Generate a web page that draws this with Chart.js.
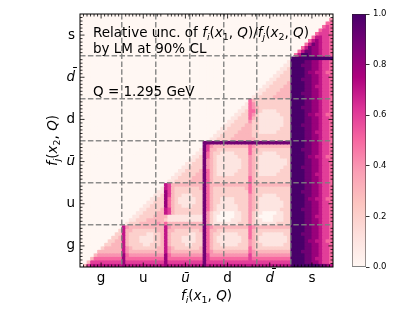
<!DOCTYPE html>
<html lang="en">
<head>
<meta charset="UTF-8">
<title>Relative uncertainty of PDF ratios</title>
<script src="https://cdn.jsdelivr.net/npm/chart.js@4.4.1/dist/chart.umd.min.js"></script>
<style>
  body { margin: 0; background: #fff; }
  #wrap { position: relative; width: 420px; height: 315px; }
  #main { position: absolute; left: 0; top: 0; }
  #cbar { position: absolute; left: 340px; top: 0; }
</style>
<script>
// flavour blocks, 12 x-bins each; rows go from top (largest x2) to bottom
// one char per cell: '0'..'9' = 0.0..0.9, 'a' = 1.0
var flavours = ['g', 'u', 'u\u0304', 'd', 'd\u0304', 's'];
var cbTicks = [0, 0.2, 0.4, 0.6, 0.8, 1.0];

var sRows = [
  '000000000000 000000000000 000000000000 000000000000 000000000000 000000000000',
  '000000000000 000000000000 000000000000 000000000000 000000000000 000000000004',
  '000000000000 000000000000 000000000000 000000000000 000000000000 000000000055',
  '000000000000 000000000000 000000000000 000000000000 000000000000 000000000565',
  '000000000000 000000000000 000000000000 000000000000 000000000000 000000005665',
  '000000000000 000000000000 000000000000 000000000000 000000000000 000000056665',
  '000000000000 000000000000 000000000000 000000000000 000000000000 000000577665',
  '000000000000 000000000000 000000000000 000000000000 000000000000 000005787665',
  '000000000000 000000000000 000000000000 000000000000 000000000000 000057987665',
  '000000000000 000000000000 000000000000 000000000000 000000000000 000579887665',
  '000000000000 000000000000 000000000000 000000000000 000000000000 005799887665',
  '000000000000 000000000000 000000000000 000000000000 000000000000 057aa9887665'
];
var dbarRows = [
  '000000000000 000000000000 000000000000 000000000000 000000000000 aaaaaaaaaaaa',
  '000000000000 000000000000 000000000000 000000000000 000000000001 aaaa99887665',
  '000000000000 000000000000 000000000000 000000000000 000000000011 aaa999887665',
  '000000000000 000000000000 000000000000 000000000000 000000000112 aaaa99887665',
  '000000000000 000000000000 000000000000 000000000000 000000001122 aaaa98877655',
  '000000000000 000000000000 000000000000 000000000000 000000011222 aaaa99887665',
  '000000000000 000000000000 000000000000 000000000000 000000112222 aaa999887665',
  '000000000000 000000000000 000000000000 000000000000 000001122223 aaaa99887665',
  '000000000000 000000000000 000000000000 000000000000 000011222233 aaaa99877665',
  '000000000000 000000000000 000000000000 000000000000 000112222333 aaaa99887665',
  '000000000000 000000000000 000000000000 000000000000 001122223333 aaa999887665',
  '000000000000 000000000000 000000000000 000000000000 011222233333 aaaa99887665'
];
var dRows = [
  '000000000000 000000000000 000000000000 000000000000 532222222222 aaaa99887665',
  '000000000000 000000000000 000000000000 000000000001 542222222222 aaaa99887665',
  '000000000000 000000000000 000000000000 000000000011 543222222222 aaa999887665',
  '000000000000 000000000000 000000000000 000000000112 553211112222 aaaa99887665',
  '000000000000 000000000000 000000000000 000000001122 542111111222 aaaa98877655',
  '000000000000 000000000000 000000000000 000000011222 532111111122 aaaa99887665',
  '000000000000 000000000000 000000000000 000000112222 422111111122 aaaa99887665',
  '000000000000 000000000000 000000000000 000001122223 322111111122 aaa999887665',
  '000000000000 000000000000 000000000000 000011222233 322111111222 aaaa99887665',
  '000000000000 000000000000 000000000000 000112222333 322111112222 aaaa99877665',
  '000000000000 000000000000 000000000000 001122223333 322222222222 aaaa99887665',
  '000000000000 000000000000 000000000000 011222233333 332222222222 aaaa99887665'
];
var ubarRows = [
  '000000000000 000000000000 000000000009 999999999999 999999999999 aaaa99887665',
  '000000000000 000000000000 000000000009 643333333333 543333333333 aaaa99887665',
  '000000000000 000000000000 000000000019 633222222222 533222222222 aaa999887665',
  '000000000000 000000000000 000000000119 532211112222 532211112222 aaaa99887665',
  '000000000000 000000000000 000000001129 532111111222 432111111222 aaaa98877655',
  '000000000000 000000000000 000000011229 432111111122 432111111112 aaaa99887665',
  '000000000000 000000000000 000000112229 432111111122 432111111112 aaaa99887665',
  '000000000000 000000000000 000001122229 432111111122 432111111122 aaa999887665',
  '000000000000 000000000000 000011222239 532111111222 432111111222 aaaa99887665',
  '000000000000 000000000000 000112222339 532111112222 432111112222 aaaa99877665',
  '000000000000 000000000000 001122223339 532222222222 532222222222 aaaa99887665',
  '000000000000 000000000000 011222233339 532222222222 532222222222 aaaa99887665'
];
var uRows = [
  '000000000000 000000000000 763333333339 533333333333 533333333333 aaaa99887665',
  '000000000000 000000000001 763222222239 532222222223 532222222222 aaaa99887665',
  '000000000000 000000000011 863222222229 532222222222 532222222222 aaa999887665',
  '000000000000 000000000112 863221112229 532222222222 432211112222 aaaa99887665',
  '000000000000 000000001122 853211111229 532211112222 432111111222 aaaa98877655',
  '000000000000 000000011222 853211111229 532211112222 432111111122 aaaa99887665',
  '000000000000 000000112222 853221112229 532111111222 432111111122 aaaa99887665',
  '000000000000 000001122223 763222222229 532111111222 432111111222 aaa999887665',
  '000000000000 000011222233 763222222229 421100001122 421100001122 aaaa99887665',
  '000000000000 000112222333 311111111119 421000001122 421000011122 aaaa99877665',
  '000000000000 001122233333 211111111119 421000011122 421100011122 aaaa99887665',
  '000000000000 012223333343 533333333339 421111111222 421111112222 aaaa99887665'
];
var gRows = [
  '000000000000 743333333333 743333333339 543333333333 543333333333 aaaa99887665',
  '000000000002 733222222233 733222222239 533222222222 532222222222 aaaa99887665',
  '000000000022 732222211223 732222211229 532211111222 532211111122 aaa999887665',
  '000000000223 732221111223 732221111229 532111111122 532111111112 aaaa99887665',
  '000000002233 732221111223 732221111229 532111111122 432111111112 aaaa98877655',
  '000000022333 732222112223 732222112229 532211111222 432211111122 aaaa99887665',
  '000000233333 743222222233 743222222239 532222222222 532222222222 aaaa99887665',
  '000003333333 743333333333 743333333339 543333333333 543333333333 aaa999887665',
  '000034444444 854444444444 854444444449 644444444444 644444444444 aaaa99887665',
  '000355555555 855555555555 855555555559 655555555555 655555555555 aaaa99877665',
  '003666666666 866666666666 866666666669 666666666666 666666666666 aaaa99887665',
  '036777777777 877777777777 877777777779 777777777777 777777777777 aaaaaaaa9987'
];
</script>
</head>
<body>
<div id="wrap">
  <canvas id="main" width="340" height="315"></canvas>
  <canvas id="cbar" width="80" height="315"></canvas>
</div>
<script>
var FONT = "'DejaVu Sans'";
var RDPU = [[255,247,243],[253,224,221],[252,197,192],[250,159,181],[247,104,161],
            [221,52,151],[174,1,126],[122,1,119],[73,0,106]];

function rgb(c) { return 'rgb(' + c[0] + ',' + c[1] + ',' + c[2] + ')'; }

function rdpu(v) {
  v = Math.max(0, Math.min(1, v));
  var p = v * 8, k = Math.min(7, Math.floor(p)), t = p - k;
  var a = RDPU[k], b = RDPU[k + 1];
  return rgb([0, 1, 2].map(function (n) { return Math.round(a[n] + (b[n] - a[n]) * t); }));
}

var allRows = [].concat(sRows, dbarRows, dRows, ubarRows, uRows, gRows);
var nBins = allRows.length;
var centers = flavours.map(function (f, k) { return 12 * k + 6; });
var bounds = [12, 24, 36, 48, 60];

var datasets = allRows.map(function (str, r) {
  var cells = Array.from(str.replace(/ /g, ''));
  var j = nBins - 1 - r;
  var vals = cells.map(function (c) { return c === 'a' ? 1 : +c / 10; });
  return {
    data: vals.map(function (v, i) { return { x: i + 0.5, y: [j, j + 1] }; }),
    backgroundColor: vals.map(rdpu),
    borderWidth: 0,
    grouped: false,
    barPercentage: 1,
    categoryPercentage: 1,
    inflateAmount: 0.4
  };
});

// text with italic letters and subscripts, like matplotlib mathtext
function richWidth(ctx, parts, size) {
  var w = 0;
  parts.forEach(function (p) {
    var sub = p[1].indexOf('s') >= 0;
    ctx.font = (p[1].indexOf('i') >= 0 ? 'italic ' : '') + (sub ? size * 0.7 : size) + 'px ' + FONT;
    w += ctx.measureText(p[0]).width;
  });
  return w;
}
function drawRich(ctx, parts, x, y, size) {
  ctx.textBaseline = 'alphabetic';
  ctx.textAlign = 'left';
  parts.forEach(function (p) {
    var sub = p[1].indexOf('s') >= 0;
    ctx.font = (p[1].indexOf('i') >= 0 ? 'italic ' : '') + (sub ? size * 0.7 : size) + 'px ' + FONT;
    ctx.fillText(p[0], x, sub ? y + size * 0.22 : y);
    x += ctx.measureText(p[0]).width;
  });
}

var titleParts = [['Relative unc. of ', 'n'], ['f', 'i'], ['i', 'si'], ['(', 'n'], ['x', 'i'], ['1', 's'],
  [', ', 'n'], ['Q', 'i'], [')/', 'n'], ['f', 'i'], ['j', 'si'], ['(', 'n'], ['x', 'i'], ['2', 's'],
  [', ', 'n'], ['Q', 'i'], [')', 'n']];
var xLabelParts = [['f', 'i'], ['i', 'si'], ['(', 'n'], ['x', 'i'], ['1', 's'], [', ', 'n'], ['Q', 'i'], [')', 'n']];
var yLabelParts = [['f', 'i'], ['j', 'si'], ['(', 'n'], ['x', 'i'], ['2', 's'], [', ', 'n'], ['Q', 'i'], [')', 'n']];

var decor = {
  id: 'decor',
  afterDraw: function (chart) {
    var ctx = chart.ctx, a = chart.chartArea;
    var xs = chart.scales.x, ys = chart.scales.y;
    ctx.save();
    // inward tick marks
    ctx.strokeStyle = '#000';
    ctx.lineWidth = 0.8;
    ctx.beginPath();
    for (var k = 1; k < nBins; k++) {
      var len = (k % 12 === 6) ? 4.5 : (k % 12 === 0 ? 0 : 2.5);
      if (!len) continue;
      var px = xs.getPixelForValue(k), py = ys.getPixelForValue(k);
      ctx.moveTo(px, a.bottom); ctx.lineTo(px, a.bottom - len);
      ctx.moveTo(px, a.top); ctx.lineTo(px, a.top + len);
      ctx.moveTo(a.left, py); ctx.lineTo(a.left + len, py);
      ctx.moveTo(a.right, py); ctx.lineTo(a.right - len, py);
    }
    ctx.stroke();
    ctx.lineWidth = 1;
    ctx.strokeRect(a.left, a.top, a.right - a.left, a.bottom - a.top);
    // annotation
    ctx.fillStyle = '#000';
    drawRich(ctx, titleParts, a.left + 13, 37, 13.5);
    drawRich(ctx, [['by LM at 90% CL', 'n']], a.left + 13, 53, 13.5);
    drawRich(ctx, [['Q = 1.295 GeV', 'n']], a.left + 13, 96, 13.5);
    // axis titles
    var w = richWidth(ctx, xLabelParts, 13.5);
    drawRich(ctx, xLabelParts, (a.left + a.right) / 2 - w / 2, 300, 13.5);
    w = richWidth(ctx, yLabelParts, 13.5);
    ctx.translate(57, (a.top + a.bottom) / 2);
    ctx.rotate(-Math.PI / 2);
    drawRich(ctx, yLabelParts, -w / 2, 0, 13.5);
    ctx.restore();
  }
};

function tickFont(c) {
  var it = c.index === 2 || c.index === 4;
  return { family: FONT, size: 13.5, style: it ? 'italic' : 'normal' };
}

var dashGrid = { color: 'rgba(128,128,128,0.9)', lineWidth: 1.5, drawTicks: false, z: 1 };

new Chart(document.getElementById('main'), {
  type: 'bar',
  data: { datasets: datasets },
  plugins: [decor],
  options: {
    responsive: false,
    animation: false,
    events: [],
    layout: { padding: { left: 0, top: 14, right: 7, bottom: 0 } },
    plugins: { legend: { display: false }, tooltip: { enabled: false } },
    scales: {
      x: {
        type: 'linear', min: 0, max: nBins, offset: false,
        afterBuildTicks: function (ax) { ax.ticks = centers.map(function (v) { return { value: v }; }); },
        afterFit: function (ax) { ax.height = 48; },
        ticks: { callback: function (v, i) { return flavours[i]; }, font: tickFont, color: '#000', padding: 3, maxRotation: 0, autoSkip: false },
        grid: { display: false, drawTicks: false, offset: false },
        border: { display: false }
      },
      y: {
        type: 'linear', min: 0, max: nBins,
        afterBuildTicks: function (ax) { ax.ticks = centers.map(function (v) { return { value: v }; }); },
        afterFit: function (ax) { ax.width = 80; },
        ticks: { callback: function (v, i) { return flavours[i]; }, font: tickFont, color: '#000', padding: 5, autoSkip: false },
        grid: { display: false, drawTicks: false },
        border: { display: false }
      },
      xg: {
        type: 'linear', position: 'top', min: 0, max: nBins,
        afterBuildTicks: function (ax) { ax.ticks = bounds.map(function (v) { return { value: v }; }); },
        afterFit: function (ax) { ax.height = 0; },
        ticks: { display: false },
        grid: dashGrid,
        border: { display: false, dash: [5.5, 2.4] }
      },
      yg: {
        type: 'linear', position: 'right', min: 0, max: nBins,
        afterBuildTicks: function (ax) { ax.ticks = bounds.map(function (v) { return { value: v }; }); },
        afterFit: function (ax) { ax.width = 0; },
        ticks: { display: false },
        grid: dashGrid,
        border: { display: false, dash: [5.5, 2.4] }
      }
    }
  }
});

// colour bar
new Chart(document.getElementById('cbar'), {
  type: 'bar',
  data: {
    labels: [''],
    datasets: [{
      data: [[0, 1]],
      backgroundColor: function (c) {
        var a = c.chart.chartArea;
        if (!a) return '#fff';
        var g = c.chart.ctx.createLinearGradient(0, a.bottom, 0, a.top);
        RDPU.forEach(function (col, k) { g.addColorStop(k / 8, rgb(col)); });
        return g;
      },
      borderColor: '#222',
      borderWidth: 0.8,
      borderSkipped: false,
      barPercentage: 1,
      categoryPercentage: 1
    }]
  },
  options: {
    responsive: false,
    animation: false,
    events: [],
    layout: { padding: { left: 12, top: 14, right: 0, bottom: 48 } },
    plugins: { legend: { display: false }, tooltip: { enabled: false } },
    scales: {
      x: { display: false },
      y: {
        position: 'right', min: 0, max: 1,
        afterBuildTicks: function (ax) { ax.ticks = cbTicks.map(function (v) { return { value: v }; }); },
        afterFit: function (ax) { ax.width = 54; },
        ticks: { callback: function (v) { return v.toFixed(1); }, font: { family: FONT, size: 8.5 }, color: '#000', padding: 3.5 },
        grid: { drawOnChartArea: false, tickLength: 3.5, tickColor: '#000', tickWidth: 0.8 },
        border: { display: false }
      }
    }
  }
});
</script>
</body>
</html>
